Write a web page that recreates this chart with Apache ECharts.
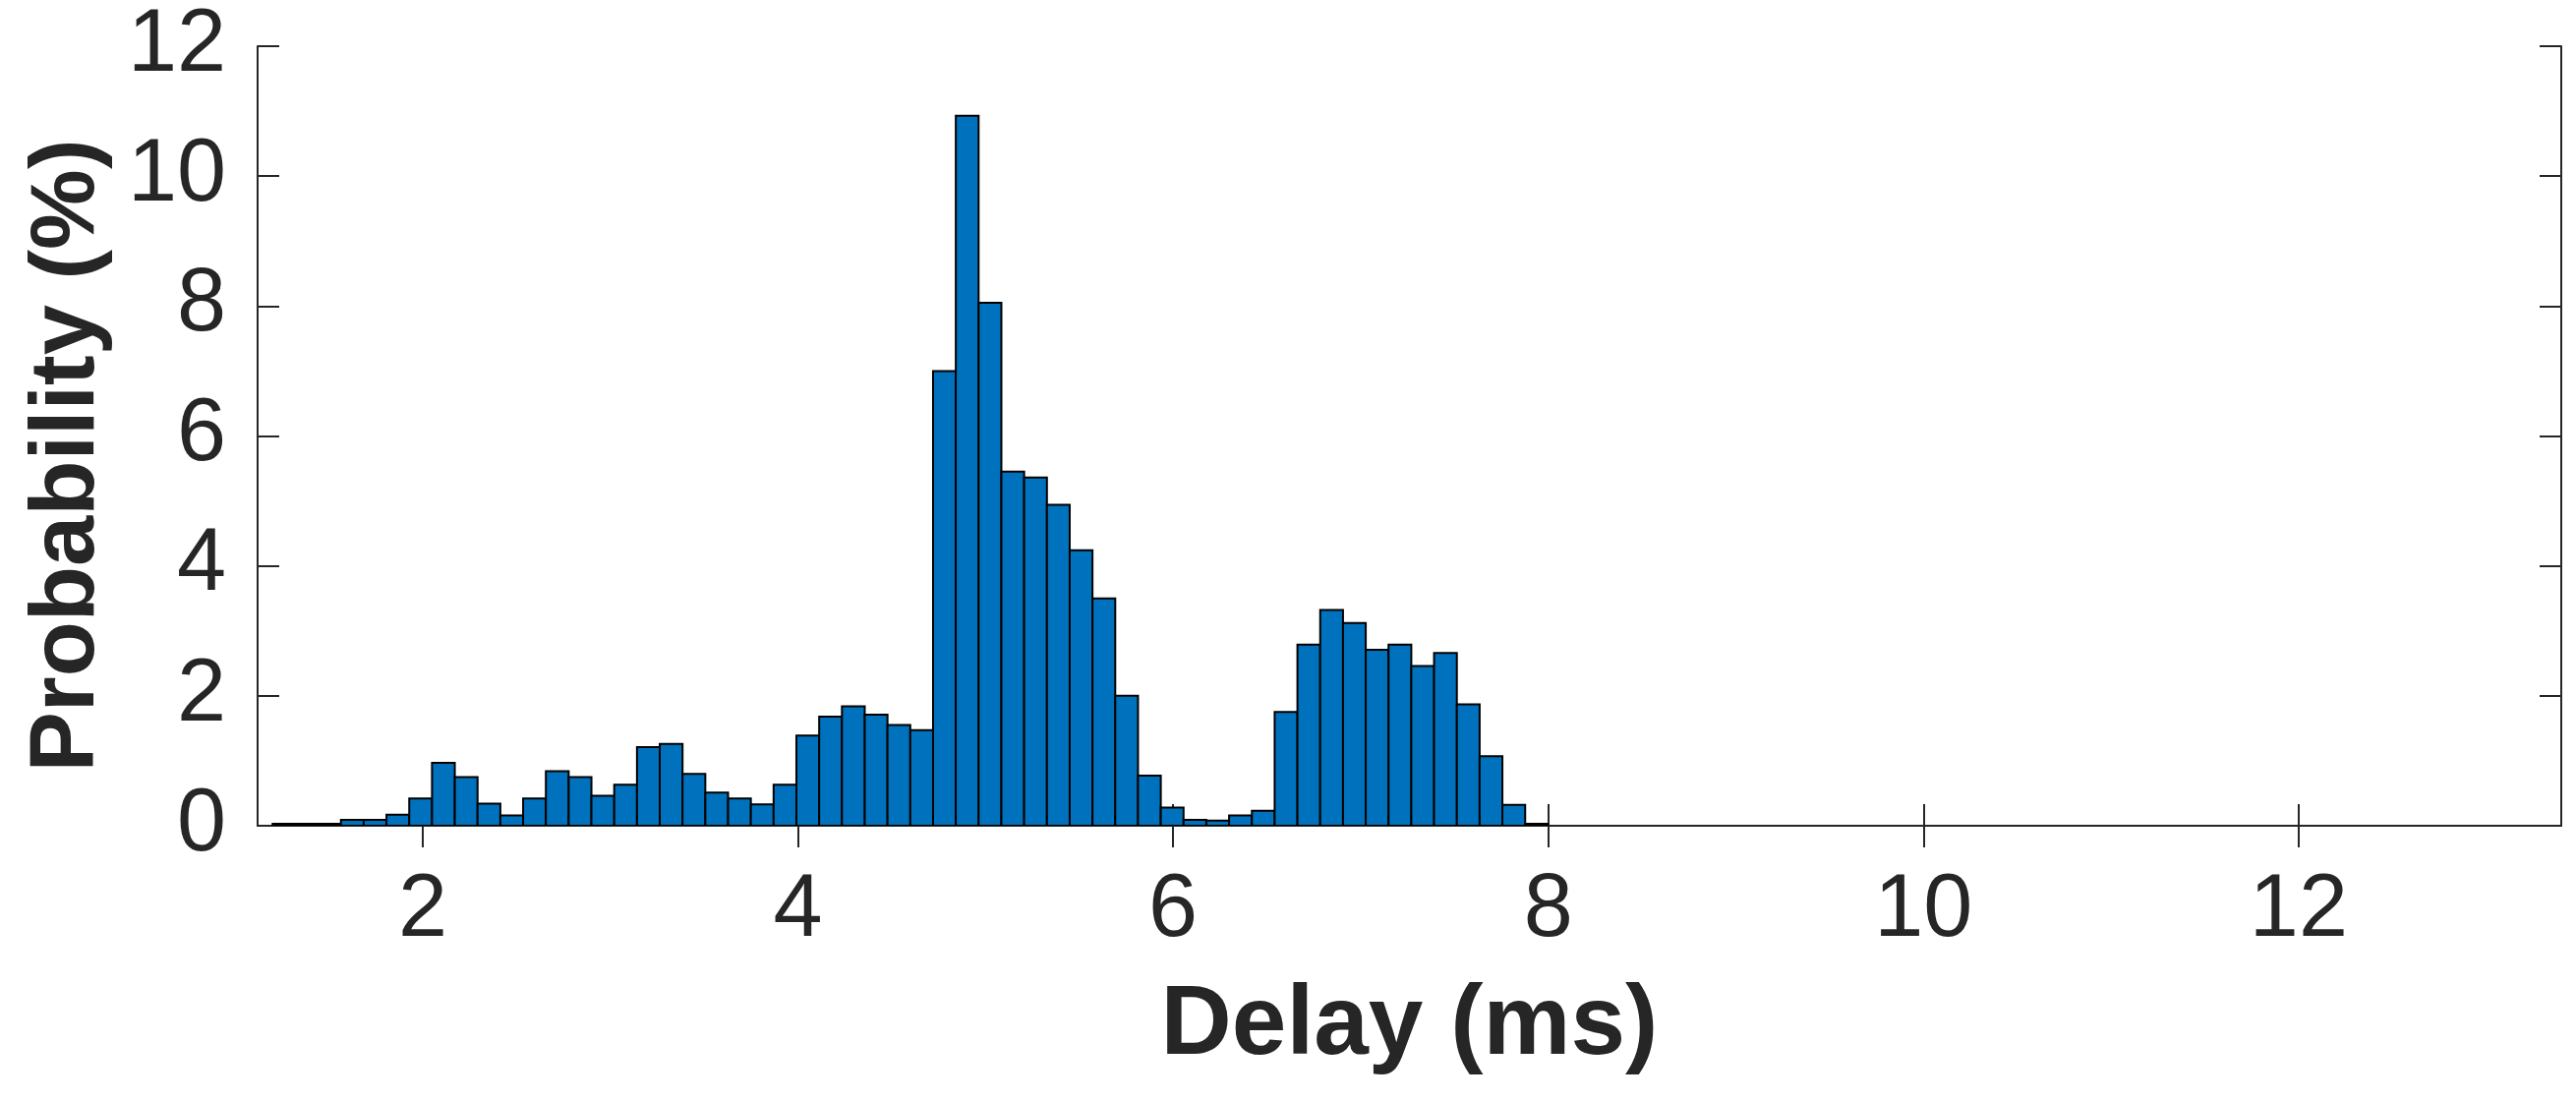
<!DOCTYPE html>
<html>
<head>
<meta charset="utf-8">
<title>Delay histogram</title>
<script src="https://cdn.jsdelivr.net/npm/echarts@6/dist/echarts.min.js"></script>
<style>
  html, body { margin: 0; padding: 0; background: #fff; }
  #chart { width: 2620px; height: 1120px; }
</style>
</head>
<body>
<div id="chart"></div>
<script>
// histogram bins: first left edge and width (ms)
const binStart = 1.2;
const binWidth = 0.1214;

// probability (%) per bin
const probability = [
  0.03, 0.03, 0.03, 0.09, 0.09, 0.17, 0.42, 0.97, 0.75, 0.34,
  0.16, 0.42, 0.84, 0.75, 0.46, 0.63, 1.21, 1.26, 0.80, 0.51,
  0.42, 0.33, 0.63, 1.39, 1.68, 1.84, 1.71, 1.55, 1.47, 7.00,
  10.93, 8.05, 5.45, 5.36, 4.94, 4.24, 3.50, 2.00, 0.77, 0.28,
  0.09, 0.08, 0.16, 0.23, 1.75, 2.79, 3.32, 3.12, 2.71, 2.79,
  2.46, 2.66, 1.87, 1.07, 0.32, 0.03
];

const xTicks = [2, 4, 6, 8, 10, 12];
const yTicks = [0, 2, 4, 6, 8, 10, 12];

const ink = '#262626';
const font = 'Liberation Sans, Arial, Helvetica, sans-serif';

const bins = probability.map((p, i) => [
  binStart + i * binWidth,
  binStart + (i + 1) * binWidth,
  p
]);

const renderBin = (params, api) => {
  const lo = api.coord([api.value(0), api.value(2)]);
  const hi = api.coord([api.value(1), 0]);
  return {
    type: 'rect',
    shape: { x: lo[0], y: lo[1], width: hi[0] - lo[0], height: hi[1] - lo[1] },
    style: { fill: '#0072BD', stroke: '#000', lineWidth: 2 }
  };
};

const tickStyle = { show: true, inside: true, length: 22, lineStyle: { color: ink, width: 2 } };
const lineStyle = { show: true, lineStyle: { color: ink, width: 2 } };

const chart = echarts.init(document.getElementById('chart'));
chart.setOption({
  animation: false,
  backgroundColor: '#fff',
  grid: { left: 262, right: 15, top: 47, bottom: 280 },
  xAxis: [
    {
      type: 'value',
      min: 1.12,
      max: 13.4,
      position: 'bottom',
      axisLine: lineStyle,
      axisTick: { ...tickStyle, customValues: xTicks },
      axisLabel: {
        customValues: xTicks,
        margin: 42,
        fontSize: 90,
        color: ink,
        fontFamily: font
      },
      splitLine: { show: false },
      name: 'Delay (ms)',
      nameLocation: 'middle',
      nameGap: 154,
      nameTextStyle: { fontSize: 100, fontWeight: 'bold', color: ink, fontFamily: font }
    },
    {
      type: 'value',
      min: 1.12,
      max: 13.4,
      position: 'top',
      axisLine: lineStyle,
      axisTick: { ...tickStyle, customValues: xTicks },
      axisLabel: { show: false },
      splitLine: { show: false }
    }
  ],
  yAxis: [
    {
      type: 'value',
      min: 0,
      max: 12,
      interval: 2,
      position: 'left',
      axisLine: lineStyle,
      axisTick: { ...tickStyle, customValues: yTicks },
      axisLabel: {
        customValues: yTicks,
        margin: 32,
        fontSize: 90,
        color: ink,
        fontFamily: font
      },
      splitLine: { show: false },
      name: 'Probability (%)',
      nameLocation: 'middle',
      nameGap: 146,
      nameTextStyle: {
        fontSize: 92,
        fontWeight: 'bold',
        color: ink,
        fontFamily: font,
        padding: [0, 40, 0, 0]
      }
    },
    {
      type: 'value',
      min: 0,
      max: 12,
      interval: 2,
      position: 'right',
      axisLine: lineStyle,
      axisTick: { ...tickStyle, customValues: yTicks },
      axisLabel: { show: false },
      splitLine: { show: false }
    }
  ],
  series: [
    {
      type: 'custom',
      renderItem: renderBin,
      xAxisIndex: 0,
      yAxisIndex: 0,
      encode: { x: [0, 1], y: 2 },
      clip: true,
      data: bins
    }
  ]
});
</script>
</body>
</html>
